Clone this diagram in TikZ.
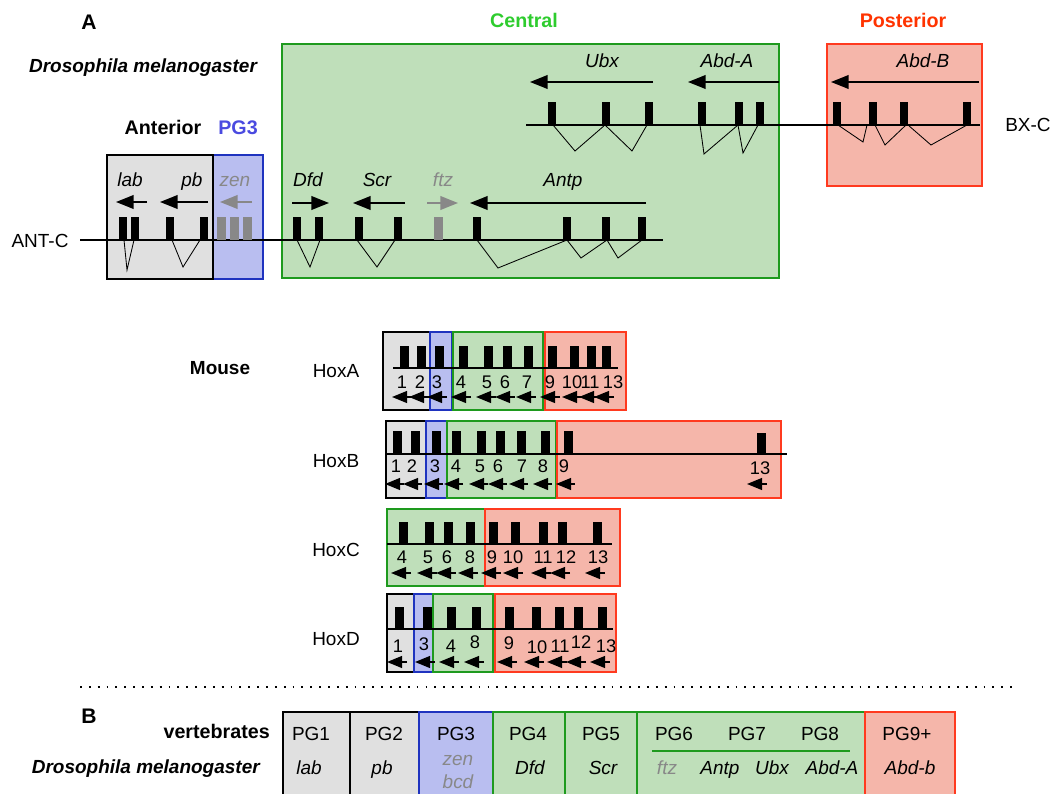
\documentclass[tikz,border=0pt]{standalone}
\usepackage{fontspec}
\setmainfont{Liberation Sans}
\usetikzlibrary{arrows.meta}
\definecolor{hoxGray}{HTML}{E0E0E0}
\definecolor{hoxBlue}{HTML}{B9BEF0}
\definecolor{hoxBlueLine}{HTML}{1F33BF}
\definecolor{hoxGreen}{HTML}{BFDFBA}
\definecolor{hoxGreenLine}{HTML}{1E9A1E}
\definecolor{hoxRed}{HTML}{F5B6AA}
\definecolor{hoxRedLine}{HTML}{FF3A1F}
\definecolor{hoxCentral}{HTML}{2ECC2E}
\definecolor{hoxPost}{HTML}{FF3300}
\definecolor{hoxPG}{HTML}{4A4AE0}
\definecolor{hoxMute}{HTML}{888888}

\begin{document}
\begin{tikzpicture}[x=0.025cm, y=-0.025cm]
\tikzset{
  txt/.style={inner sep=0pt, anchor=base, font=\fontsize{13.5}{16}\selectfont},
  hdr/.style={txt, font=\fontsize{14}{16}\selectfont\bfseries},
  gene/.style={txt, font=\fontsize{13.5}{16}\selectfont\itshape},
  spec/.style={txt, font=\fontsize{13.5}{16}\selectfont\bfseries\itshape},
  num/.style={inner sep=0pt, anchor=base, font=\fontsize{13}{15}\selectfont},
  bxA/.style={fill=hoxGray, draw=black, line width=0.9pt},
  bxP/.style={fill=hoxBlue, draw=hoxBlueLine, line width=0.9pt},
  bxC/.style={fill=hoxGreen, draw=hoxGreenLine, line width=0.9pt},
  bxR/.style={fill=hoxRed, draw=hoxRedLine, line width=0.9pt},
  chr/.style={line width=1.3pt},
  spl/.style={line width=0.6pt},
  tx/.style={-{Triangle[length=4.4mm,width=3.4mm]}, line width=1.3pt},
  mx/.style={-{Triangle[length=3.8mm,width=3.0mm]}, line width=1.1pt}
}
\useasboundingbox (0,0) rectangle (1053,794);

% A: Drosophila clusters
\draw[bxP] (213,155) rectangle (263,279);
\draw[bxA] (107,155) rectangle (213,279);
\draw[bxC] (282,44) rectangle (779,278);
\draw[bxR] (827,44) rectangle (982,186);

\node[hdr, font=\fontsize{15}{17}\selectfont\bfseries] (labA) at (89,30) {A};
\node[spec] (dmel) at (143,73) {Drosophila melanogaster};
\node[hdr] (ant) at (163,135) {Anterior};
\node[hdr, text=hoxPG] (pg3) at (238,135) {PG3};
\node[hdr, text=hoxCentral] (cen) at (524,28) {Central};
\node[hdr, text=hoxPost] (post) at (903,28) {Posterior};
\node[txt] (antc) at (40,248) {ANT-C};
\node[txt] (bxc) at (1028,132) {BX-C};

% ANT-C
\draw[chr] (80,240) -- (663,240);
\foreach \c in {123,135,170,204,297,319,359,398,477,567,606,642}
  \fill (\c-4,217) rectangle (\c+4,240);
\foreach \c in {221,234,247,438}
  \fill[hoxMute] (\c-4.5,217) rectangle (\c+4.5,240);
\draw[spl] (124,240) -- (127,270) -- (134,240);
\draw[spl] (172,240) -- (183,267) -- (200,240);
\draw[spl] (297,240) -- (310,267) -- (320,240);
\draw[spl] (357,240) -- (377,267) -- (395,240);
\draw[spl] (477,240) -- (498,268) -- (567,240) -- (581,258) -- (607,240) -- (618,258) -- (642,240);

\draw[tx] (147,202) -- (116,202);
\draw[tx] (208,202) -- (160,202);
\draw[tx, hoxMute] (252,202) -- (220,202);
\draw[tx] (292,203) -- (329,203);
\draw[tx] (405,203) -- (353,203);
\draw[tx, hoxMute] (427,203) -- (458,203);
\draw[tx] (646,203) -- (470,203);
\node[gene] (lab) at (130,187) {lab};
\node[gene] (pb) at (192,187) {pb};
\node[gene, text=hoxMute] (zen) at (235,187) {zen};
\node[gene] (dfd) at (308,187) {Dfd};
\node[gene] (scr) at (377,187) {Scr};
\node[gene, text=hoxMute] (ftz) at (443,187) {ftz};
\node[gene] (antp) at (563,187) {Antp};

% BX-C
\draw[chr] (526,125) -- (980,125);
\foreach \c in {552,606,649,702,739,760,837,873,904,967}
  \fill (\c-4,102) rectangle (\c+4,125);
\draw[spl] (553,125) -- (575,151) -- (605,125) -- (632,151) -- (647,125);
\draw[spl] (700,125) -- (704,154) -- (738,125) -- (743,153) -- (758,125);
\draw[spl] (838,125) -- (863,142) -- (867,125);
\draw[spl] (875,125) -- (885,145) -- (906,125);
\draw[spl] (908,125) -- (931,145) -- (967,125);
\draw[tx] (653,82) -- (530,82);
\draw[tx] (779,82) -- (688,82);
\draw[tx] (979,82) -- (831,82);
\node[gene] (ubx) at (602,68) {Ubx};
\node[gene] (abda) at (727,68) {Abd-A};
\node[gene] (abdb) at (923,68) {Abd-B};

% Mouse clusters
\node[hdr, font=\fontsize{13.5}{16}\selectfont\bfseries] (mouse) at (220,374) {Mouse};
\node[txt] (hoxa) at (336,377) {HoxA};
\node[txt] (hoxb) at (336,467) {HoxB};
\node[txt] (hoxc) at (336,556) {HoxC};
\node[txt] (hoxd) at (336,645) {HoxD};

% HoxA
\draw[bxA] (383,332) rectangle (430,410);
\draw[bxP] (430,332) rectangle (452,410);
\draw[bxC] (453,332) rectangle (543,410);
\draw[bxR] (545,332) rectangle (626,410);
\draw[chr] (393,368) -- (618,368);
\foreach \c/\n/\x in {404/1/402, 421/2/420, 439/3/437, 463/4/461, 488/5/487, 507/6/505,
                      528/7/527, 552/9/550, 574/10/572, 591/11/590, 606/13/613} {
  \fill (\c-4.5,346) rectangle (\c+4.5,368);
  \node[num] (a\n) at (\x,388) {\n};
  \draw[mx] (\c+8,397) -- (\c-12,397);
}

% HoxB
\draw[bxA] (386,421) rectangle (426,498);
\draw[bxP] (426,421) rectangle (447,498);
\draw[bxC] (447,421) rectangle (556,498);
\draw[bxR] (557,421) rectangle (781,498);
\draw[chr] (386,454) -- (787,454);
\foreach \c/\n/\x in {397/1/396, 415/2/412, 436/3/435, 456/4/456, 481/5/480, 500/6/498,
                      521/7/522, 545/8/543, 568/9/564} {
  \fill (\c-4.5,431) rectangle (\c+4.5,454);
  \node[num] (b\n) at (\x,472) {\n};
  \draw[mx] (\c+7,484) -- (\c-12,484);
}
\fill (756.5,433) rectangle (765.5,454);
\node[num] (b13) at (760,474) {13};
\draw[mx] (767,484) -- (747,484);

% HoxC
\draw[bxC] (387,509) rectangle (485,586);
\draw[bxR] (485,509) rectangle (620,586);
\draw[chr] (387,544) -- (612,544);
\foreach \c/\n/\x in {403/4/402, 429/5/428, 448/6/447, 470/8/470, 493/9/492, 515/10/513,
                      543/11/543, 562/12/566, 597/13/598} {
  \fill (\c-4.5,522) rectangle (\c+4.5,544);
  \node[num] (c\n) at (\x,563) {\n};
  \draw[mx] (\c+8,573) -- (\c-12,573);
}

% HoxD
\draw[bxA] (387,594) rectangle (414,672);
\draw[bxP] (414,594) rectangle (433,672);
\draw[bxC] (433,594) rectangle (493,672);
\draw[bxR] (495,594) rectangle (616,672);
\draw[chr] (388,629) -- (613,629);
\foreach \c/\n/\x/\b in {399/1/398/652, 427/3/424/650, 451/4/451/652, 476/8/475/648,
                         509/9/509/649, 536/10/537/653, 559/11/560/652, 578/12/581/648,
                         602/13/606/652} {
  \fill (\c-4.5,607) rectangle (\c+4.5,629);
  \node[num] (d\n) at (\x,\b) {\n};
  \draw[mx] (\c+8,662) -- (\c-12,662);
}

% B: paralog groups
\draw[line width=1.1pt, dash pattern=on 1.3pt off 5pt] (80,687) -- (1012,687);
\node[hdr, font=\fontsize{15}{17}\selectfont\bfseries] (labB) at (89,723) {B};
\node[hdr, anchor=base east] (vert) at (270,738) {vertebrates};
\node[spec, anchor=base east] (dmelB) at (260,773) {Drosophila melanogaster};

\path[bxA] (283,800) -- (283,712) -- (350,712) -- (350,800);
\path[bxA] (350,800) -- (350,712) -- (419,712) -- (419,800);
\path[bxP] (419,800) -- (419,712) -- (493,712) -- (493,800);
\path[bxC] (493,800) -- (493,712) -- (565,712) -- (565,800);
\path[bxC] (565,800) -- (565,712) -- (637,712) -- (637,800);
\path[bxC] (637,800) -- (637,712) -- (865,712) -- (865,800);
\path[bxR] (865,800) -- (865,712) -- (955,712) -- (955,800);
\draw[hoxGreenLine, line width=1.3pt] (652,751) -- (850,751);

\foreach \x/\p in {311/1, 384/2, 456/3, 528/4, 601/5, 674/6, 747/7, 820/8}
  \node[txt] (pg\p) at (\x,740) {PG\p};
\node[txt] (pg9) at (907,740) {PG9+};
\node[gene] (labB) at (309,774) {lab};
\node[gene] (pbB) at (382,774) {pb};
\node[gene, text=hoxMute] (zenB) at (458,765) {zen};
\node[gene, text=hoxMute] (bcdB) at (458,788) {bcd};
\node[gene] (dfdB) at (530,774) {Dfd};
\node[gene] (scrB) at (603,774) {Scr};
\node[gene, text=hoxMute] (ftzB) at (667,774) {ftz};
\node[gene] (antpB) at (720,774) {Antp};
\node[gene] (ubxB) at (772,774) {Ubx};
\node[gene] (abdaB) at (832,774) {Abd-A};
\node[gene] (abdbB) at (910,774) {Abd-b};
\end{tikzpicture}
\end{document}
